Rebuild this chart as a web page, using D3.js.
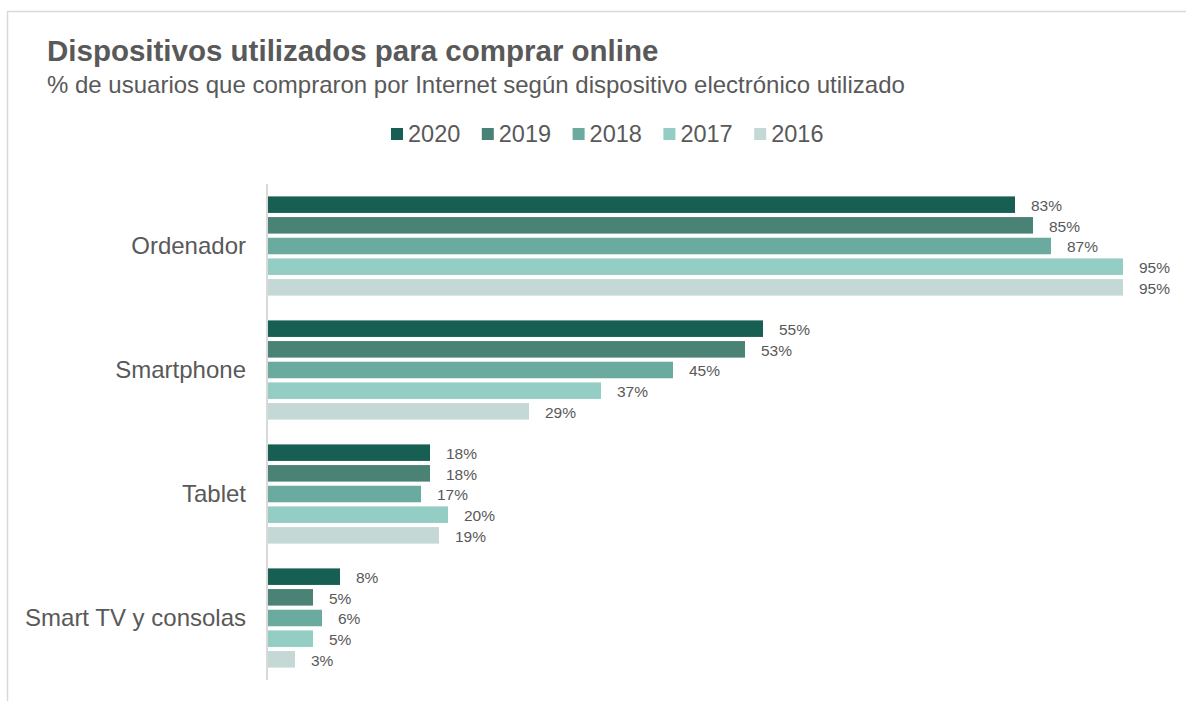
<!DOCTYPE html>
<html>
<head>
<meta charset="utf-8">
<script src="https://cdn.jsdelivr.net/npm/d3@7"></script>
<style>
  body { margin: 0; background: #fff; }
  svg { display: block; font-family: "Liberation Sans", Arial, sans-serif; }
</style>
</head>
<body>
<div id="container"></div>
<script>
// data
let categories = ["Ordenador", "Smartphone", "Tablet", "Smart TV y consolas"];
let years = ["2020", "2019", "2018", "2017", "2016"];
let values2020 = [83, 55, 18, 8];
let values2019 = [85, 53, 18, 5];
let values2018 = [87, 45, 17, 6];
let values2017 = [95, 37, 20, 5];
let values2016 = [95, 29, 19, 3];
let colors = ["#175f52", "#4a8276", "#6aaa9f", "#93cdc3", "#c4d8d5"];

let series = [values2020, values2019, values2018, values2017, values2016];
let rows = [];
categories.forEach((c, i) => {
  years.forEach((y, j) => {
    rows.push({ cat: c, year: y, value: series[j][i] });
  });
});

let w = 1186;
let h = 701;
let textColor = "#595959";

let svg = d3.select("#container").append("svg")
  .attr("width", w)
  .attr("height", h);

// frame
svg.append("rect")
  .attr("x", 7.5).attr("y", 11.5)
  .attr("width", 1200).attr("height", 720)
  .attr("fill", "none")
  .attr("stroke", "#d9d9d9")
  .attr("stroke-width", 1.5);

// titles
svg.append("text")
  .attr("x", 47).attr("y", 61)
  .attr("font-size", "29.5px")
  .attr("font-weight", "bold")
  .attr("fill", textColor)
  .text("Dispositivos utilizados para comprar online");

svg.append("text")
  .attr("x", 47).attr("y", 93)
  .attr("font-size", "24px")
  .attr("fill", textColor)
  .text("% de usuarios que compraron por Internet según dispositivo electrónico utilizado");

// legend
let legend = svg.append("g").attr("transform", "translate(391,128)");
let item = legend.selectAll("g")
  .data(years)
  .enter()
  .append("g")
  .attr("transform", (d, i) => `translate(${i * 90.8},0)`);
item.append("rect")
  .attr("width", 12).attr("height", 12)
  .attr("fill", (d, i) => colors[i]);
item.append("text")
  .attr("x", 17).attr("y", 13.5)
  .attr("font-size", "23.5px")
  .attr("fill", textColor)
  .text(d => d);

// scales
let x = d3.scaleLinear().domain([0, 100]).range([268, 1168]);
let y0 = d3.scaleBand().domain(categories).range([184, 680]);
let y1 = d3.scaleBand().domain(years).range([0, y0.bandwidth()])
  .paddingInner(0.2).paddingOuter(0.6);
let color = d3.scaleOrdinal().domain(years).range(colors);

// bars
svg.append("g")
  .selectAll("rect")
  .data(rows)
  .enter()
  .append("rect")
  .attr("x", x(0))
  .attr("y", d => y0(d.cat) + y1(d.year))
  .attr("width", d => x(d.value) - x(0))
  .attr("height", y1.bandwidth())
  .attr("fill", d => color(d.year));

// value labels
svg.append("g")
  .selectAll("text")
  .data(rows)
  .enter()
  .append("text")
  .attr("x", d => x(d.value) + 16)
  .attr("y", d => y0(d.cat) + y1(d.year) + y1.bandwidth() / 2 + 1)
  .attr("dy", "0.35em")
  .attr("font-size", "15.5px")
  .attr("fill", textColor)
  .text(d => d.value + "%");

// axis line
svg.append("line")
  .attr("x1", 267).attr("x2", 267)
  .attr("y1", 184).attr("y2", 680)
  .attr("stroke", "#d9d9d9")
  .attr("stroke-width", 2);

// category labels
svg.append("g")
  .selectAll("text")
  .data(categories)
  .enter()
  .append("text")
  .attr("x", 246)
  .attr("y", d => y0(d) + y0.bandwidth() / 2)
  .attr("dy", "0.35em")
  .attr("text-anchor", "end")
  .attr("font-size", "24px")
  .attr("fill", textColor)
  .text(d => d);
</script>
</body>
</html>
